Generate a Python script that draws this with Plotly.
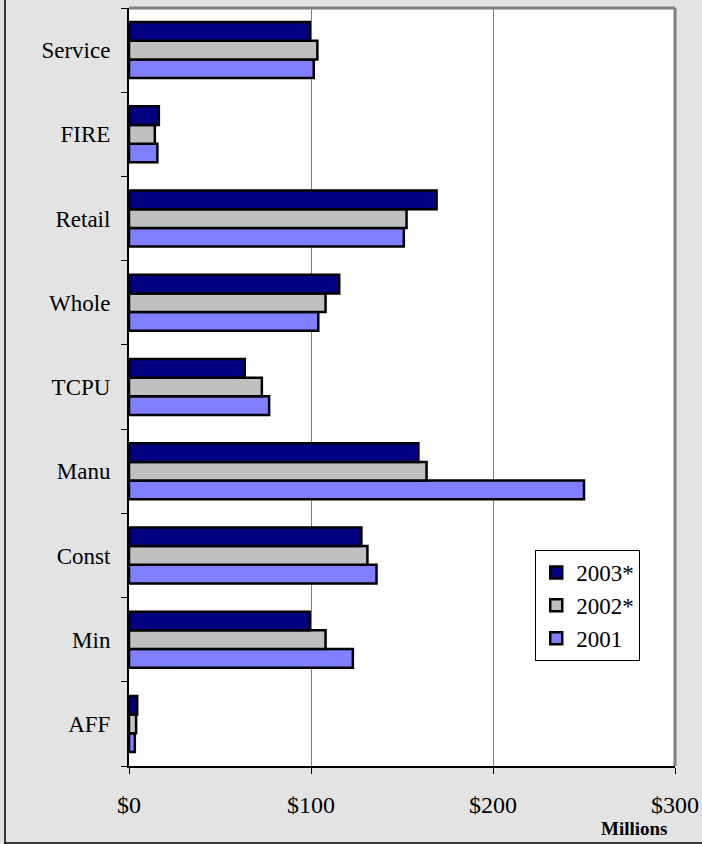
import plotly.graph_objects as go

# categories, bottom to top
sectors = ["AFF", "Min", "Const", "Manu", "TCPU", "Whole", "Retail", "FIRE", "Service"]

# values in $ millions
v2001 = [3.2, 123, 136, 250, 77, 104, 151, 15.6, 101.5]
v2002 = [3.9, 108, 131, 163.5, 73, 108, 152.5, 14.2, 103.5]
v2003 = [4.5, 99.3, 127.7, 159, 63.6, 115.5, 169, 16.4, 99.4]

series = [
    ("2001", v2001, "#8080FF"),
    ("2002*", v2002, "#C0C0C0"),
    ("2003*", v2003, "#000080"),
]

serif = "Liberation Serif, Times New Roman, serif"

fig = go.Figure()
for name, vals, col in series:
    fig.add_trace(go.Bar(
        y=sectors, x=vals, name=name, orientation="h",
        legendgroup=name,
        marker=dict(color=col, line=dict(color="black", width=2.5)),
    ))

fig.update_layout(
    width=702, height=844,
    barmode="group", bargap=0.335, bargroupgap=0,
    margin=dict(l=129, r=27, t=8, b=78),
    paper_bgcolor="#E3E3E3",
    plot_bgcolor="white",
    font=dict(family=serif, size=23, color="black"),
    showlegend=True,
    legend=dict(
        x=0.744, y=0.285, xanchor="left", yanchor="top",
        bgcolor="white", bordercolor="black", borderwidth=1,
        traceorder="reversed", tracegroupgap=4,
        font=dict(family=serif, size=23),
        itemwidth=30,
    ),
    xaxis=dict(
        range=[0, 300], tickvals=[0, 100, 200, 300],
        ticktext=["$0", "$100", "$200", "$300"],
        tickfont=dict(size=24),
        showgrid=True, gridcolor="#808080", gridwidth=1,
        zeroline=False, automargin=False,
        showline=True, linecolor="black", linewidth=2,
        ticks="outside", ticklen=6, tickcolor="black",
        ticklabelstandoff=10,
        mirror=False,
    ),
    yaxis=dict(
        showgrid=False, zeroline=False, automargin=False,
        showline=True, linecolor="black", linewidth=2,
        ticks="outside", tickson="boundaries", ticklen=6, tickcolor="black",
        ticklabelstandoff=12,
    ),
    shapes=[
        # grey frame on top and right of plot area
        dict(type="line", xref="paper", yref="paper", x0=0, x1=1, y0=1, y1=1,
             line=dict(color="#808080", width=3)),
        dict(type="line", xref="paper", yref="paper", x0=1, x1=1, y0=0, y1=1,
             line=dict(color="#808080", width=3)),
        # outer chart border (left and bottom)
        dict(type="line", xref="paper", yref="paper",
             x0=-124 / 546, x1=-124 / 546, y0=-78 / 758, y1=1.02,
             line=dict(color="black", width=1.5)),
        dict(type="line", xref="paper", yref="paper",
             x0=-124 / 546, x1=1.06, y0=-77 / 758, y1=-77 / 758,
             line=dict(color="black", width=1.5)),
    ],
    annotations=[
        dict(text="<b>Millions</b>", xref="paper", yref="paper",
             x=0.925, y=-0.083, xanchor="center", yanchor="middle",
             showarrow=False, font=dict(family=serif, size=19)),
    ],
)

# drop the browser's default page margin so the figure sits at 0,0
fig.write_html("out.html", config={"displayModeBar": False},
               post_script="document.body.style.margin='0';document.body.style.overflow='hidden';")
